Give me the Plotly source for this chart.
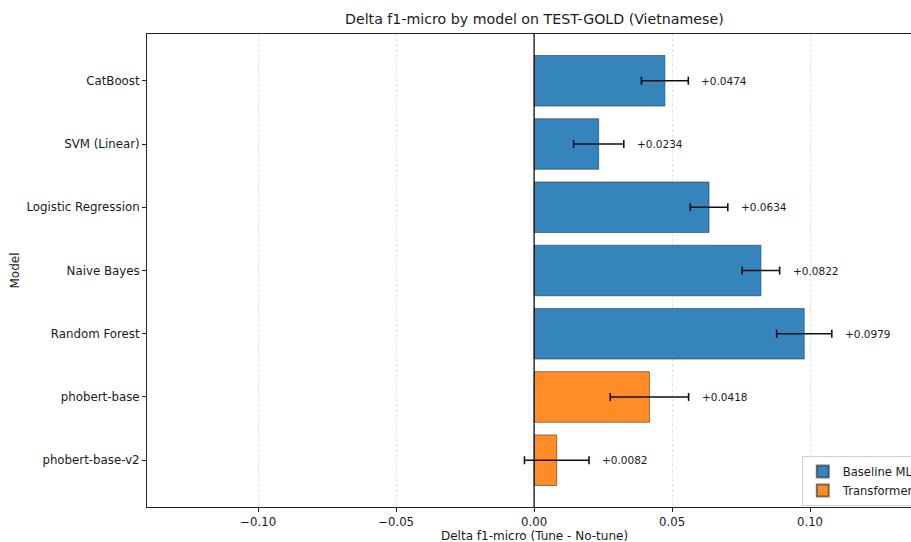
import plotly.graph_objects as go

# Delta f1-micro (tuned minus untuned) per model, TEST-GOLD Vietnamese split
models = ["CatBoost", "SVM (Linear)", "Logistic Regression", "Naive Bayes",
          "Random Forest", "phobert-base", "phobert-base-v2"]
groups = ["Baseline ML", "Baseline ML", "Baseline ML", "Baseline ML",
          "Baseline ML", "Transformer", "Transformer"]
delta = [0.0474, 0.0234, 0.0634, 0.0822, 0.0979, 0.0418, 0.0082]
delta_err = [0.0085, 0.0091, 0.0068, 0.0068, 0.0100, 0.0142, 0.0117]

x_ticks = [-0.10, -0.05, 0.0, 0.05, 0.10]
x_tick_text = ["\u22120.10", "\u22120.05", "0.00", "0.05", "0.10"]

fill = {"Baseline ML": "rgba(31,119,180,0.9)", "Transformer": "rgba(255,127,14,0.9)"}
FONT = "DejaVu Sans"
INK = "#1a1a1a"

fig = go.Figure()
for g in ["Baseline ML", "Transformer"]:
    idx = [i for i, gg in enumerate(groups) if gg == g]
    fig.add_trace(go.Bar(
        orientation="h",
        name=g,
        y=[models[i] for i in idx],
        x=[delta[i] for i in idx],
        width=0.8,
        marker=dict(color=fill[g], line=dict(color="rgba(40,40,40,0.6)", width=0.9)),
        error_x=dict(type="data", array=[delta_err[i] for i in idx], symmetric=True,
                     color="#111111", thickness=1.6, width=4),
    ))

# value labels to the right of each error bar
for m, v, e in zip(models, delta, delta_err):
    fig.add_annotation(x=v + e, y=m, xref="x", yref="y", text=f"+{v:.4f}",
                       showarrow=False, xanchor="left", xshift=11,
                       font=dict(family=FONT, size=10.5, color=INK))

# zero reference line
fig.add_shape(type="line", x0=0, x1=0, xref="x", y0=0, y1=1, yref="paper",
              line=dict(color="#111111", width=1.3))

# title and axis labels
fig.add_annotation(x=0, xref="x", y=1, yref="paper", yanchor="bottom", yshift=5,
                   text="Delta f1-micro by model on TEST-GOLD (Vietnamese)",
                   showarrow=False, font=dict(family=FONT, size=14.2, color=INK))
fig.add_annotation(x=0, xref="x", y=0, yref="paper", yanchor="top", yshift=-20,
                   text="Delta f1-micro (Tune - No-tune)",
                   showarrow=False, font=dict(family=FONT, size=12, color=INK))
fig.add_annotation(x=0, xref="paper", xshift=-142, y=0.5, yref="paper",
                   text="Model", textangle=-90, showarrow=False,
                   font=dict(family=FONT, size=12, color=INK))

fig.update_layout(
    width=911, height=542,
    margin=dict(l=147, r=0, t=34, b=35, autoexpand=False),
    paper_bgcolor="white", plot_bgcolor="white",
    barmode="overlay",
    font=dict(family=FONT, size=12, color=INK),
    showlegend=True,
    legend=dict(x=0.857, y=0.108, xanchor="left", yanchor="top",
                bgcolor="rgba(255,255,255,0.9)", bordercolor="#d0d0d0", borderwidth=1,
                font=dict(family=FONT, size=11.6, color=INK),
                itemsizing="constant", tracegroupgap=0),
)
fig.update_xaxes(
    range=[-0.1403, 0.1366], tickvals=x_ticks, ticktext=x_tick_text,
    showgrid=True, gridcolor="#e4e4e4", griddash="3px,2px", gridwidth=1,
    zeroline=False, showline=True, linecolor="#222222", linewidth=1, mirror=True,
    ticks="outside", ticklen=4, tickcolor="#222222",
    tickfont=dict(family=FONT, size=11.7, color=INK),
)
fig.update_yaxes(
    type="category", categoryorder="array", categoryarray=models,
    range=[6.74, -0.74], showgrid=False, zeroline=False,
    showline=True, linecolor="#222222", linewidth=1, mirror=False,
    ticks="outside", ticklen=4, tickcolor="#222222",
    tickfont=dict(family=FONT, size=11.8, color=INK),
)

fig.write_html("out.html")
